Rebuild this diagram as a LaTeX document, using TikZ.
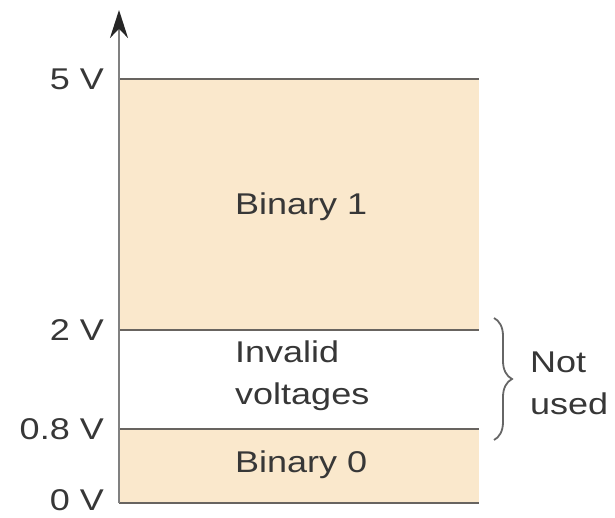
\documentclass[tikz,border=0pt]{standalone}
\usepackage{fontspec}
\setmainfont{Liberation Sans}[FakeStretch=1.2]
\usetikzlibrary{positioning,arrows.meta,decorations.pathreplacing}
\definecolor{bandfill}{RGB}{250,232,204}
\definecolor{rulegray}{RGB}{104,100,96}
\definecolor{inkgray}{RGB}{55,55,55}

\begin{document}
\begin{tikzpicture}[x=1pt,y=1pt,
      band/.style={fill=bandfill,draw=none},
      level/.style={draw=rulegray,line width=2pt},
      volt/.style={anchor=east,inner sep=0pt,text=inkgray,
        font=\fontsize{30}{42}\selectfont},
      zone/.style={anchor=west,inner sep=0pt,align=left,text=inkgray,
        font=\fontsize{30}{42}\selectfont}
    ]
    \useasboundingbox (0,0) rectangle (615,517);
    % levels
    \coordinate (v0) at (119,14);
    \coordinate (v08) at (119,88);
    \coordinate (v2) at (119,187);
    \coordinate (v5) at (119,438);
    \coordinate (top) at (119,507);
    \coordinate (e0) at (479,14);
    \coordinate (e08) at (479,88);
    \coordinate (e2) at (479,187);
    \coordinate (e5) at (479,438);
    \fill[band] (v0) rectangle (e08);
    \fill[band] (v2) rectangle (e5);
    \draw[level] (v0) -- (e0);
    \draw[level] (v08) -- (e08);
    \draw[level] (v2) -- (e2);
    \draw[level] (v5) -- (e5);
    \draw[draw=gray,line width=2pt,-{Stealth[length=28pt,width=18pt,color=black!85]}]
      (v0) -- (top);
    % voltage labels
    \node[volt] (l5) at (104,438) {5 V};
    \node[volt] (l2) at (104,187) {2 V};
    \node[volt] (l08) at (104,88) {0.8 V};
    \node[volt] (l0) at (104,17) {0 V};
    % zones
    \node[zone] (b1) at (235,310) {Binary 1};
    \node[zone] (inv) at (235,141) {Invalid\\voltages};
    \node[zone] (b0) at (235,52) {Binary 0};
    % brace
    \coordinate (brtop) at (494,199);
    \coordinate (brbot) at (494,77);
    \draw[draw=black!60,line width=1.8pt,
      decorate,decoration={brace,amplitude=18pt}] (brtop) -- (brbot);
    \node[zone] (nu) at (530,134) {Not\\used};
  \end{tikzpicture}
\end{document}
